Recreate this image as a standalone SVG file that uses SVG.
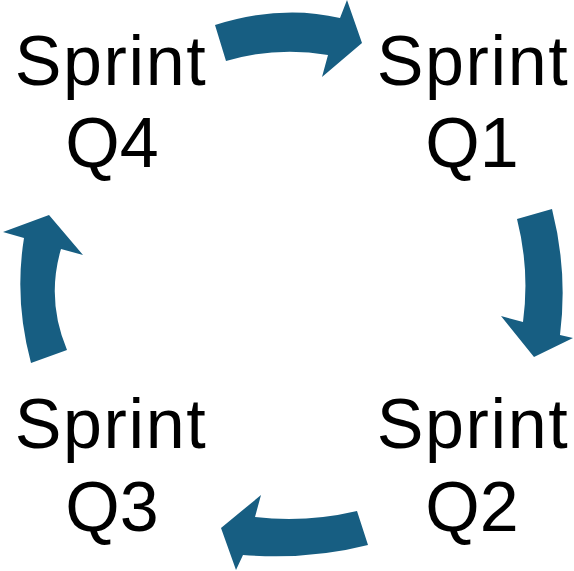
<svg xmlns="http://www.w3.org/2000/svg" width="574" height="571" viewBox="0 0 574 571">
<style>
.arr{fill:#175E82}
.lbl{font-family:"Liberation Sans",Arial,sans-serif;font-size:70px;fill:#000;text-anchor:middle}
.sp{letter-spacing:1.6px}
</style>
<rect width="574" height="571" fill="#fff"/>
<g id="connectors">
<path class="arr" d="M215,25 Q282,4 340,18 L347,0 L362,43 L322,77 L328,55 Q277,46 226,61 Z"/>
<path class="arr" d="M517,219 L552,209 Q568,272 560,335 L573,338 L534,357 L501,316 L523,322 Q530,270 517,219 Z"/>
<path class="arr" d="M357,511 L368,545 Q310,560 243,555 L236,570 L221,528 L261,495 L255,517 Q306,523 357,511 Z"/>
<path class="arr" d="M31,363 L67,350 Q46,300 61,249 L83,255 L49,215 L3,232 L24,238 Q14,300 31,363 Z"/>
</g>
<g id="q4"><text class="lbl sp" x="111" y="85">Sprint</text><text class="lbl" x="112" y="167">Q4</text></g>
<g id="q1"><text class="lbl sp" x="473" y="85">Sprint</text><text class="lbl" x="472" y="167">Q1</text></g>
<g id="q3"><text class="lbl sp" x="111" y="448">Sprint</text><text class="lbl" x="112" y="531">Q3</text></g>
<g id="q2"><text class="lbl sp" x="473" y="448">Sprint</text><text class="lbl" x="472" y="531">Q2</text></g>
</svg>
